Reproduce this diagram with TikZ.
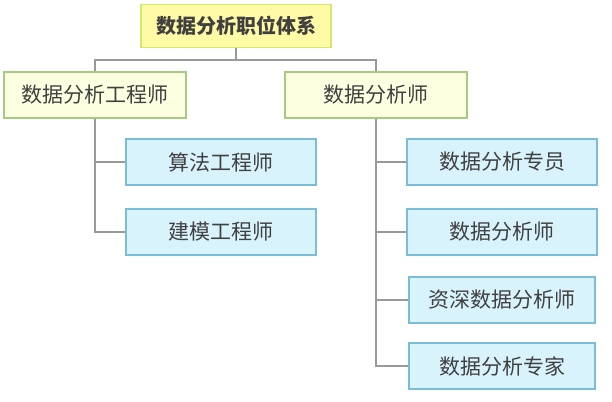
\documentclass[tikz,border=0pt]{standalone}
\usepackage{fontspec}
\setmainfont{Noto Sans CJK SC}
\begin{document}
\begin{tikzpicture}[x=1pt,y=-1pt,
  base/.style={draw,line width=1.2pt,minimum height=46pt,font=\fontsize{21}{24}\selectfont,text=black!75,inner sep=0pt},
  topbox/.style={base,fill=yellow!35,draw=yellow!70!green!60,minimum width=190pt,minimum height=43pt,font=\fontsize{20}{24}\selectfont\bfseries},
  midbox/.style={base,fill=green!10!yellow!12,draw=green!50!yellow!60!black!50,minimum width=182pt},
  leafbox/.style={base,fill=cyan!15,draw=cyan!50!teal!60,minimum width=190pt},
  conn/.style={draw=black!40,line width=1.2pt}]
\useasboundingbox (0,0) rectangle (612,401);
\node[topbox] (t) at (236,26) {数据分析职位体系};
\node[midbox] (l) at (95,95) {数据分析工程师};
\node[midbox] (r) at (376,95) {数据分析师};
\node[leafbox] (l1) at (221,162) {算法工程师};
\node[leafbox] (l2) at (221,232) {建模工程师};
\node[leafbox] (r1) at (502,162) {数据分析专员};
\node[leafbox] (r2) at (502,232) {数据分析师};
\node[leafbox,minimum width=186pt] (r3) at (502,300) {资深数据分析师};
\node[leafbox,minimum width=186pt] (r4) at (502,366) {数据分析专家};
\coordinate (j) at (236,60);
\draw[conn] (t.south) -- (j) -| (l.north);
\draw[conn] (j) -| (r.north);
\draw[conn] (l.south) |- (l2.west);
\draw[conn] (l.south) |- (l1.west);
\draw[conn] (r.south) |- (r4.west);
\foreach \n in {r1,r2,r3} \draw[conn] (r.south) |- (\n.west);
\end{tikzpicture}
\end{document}
